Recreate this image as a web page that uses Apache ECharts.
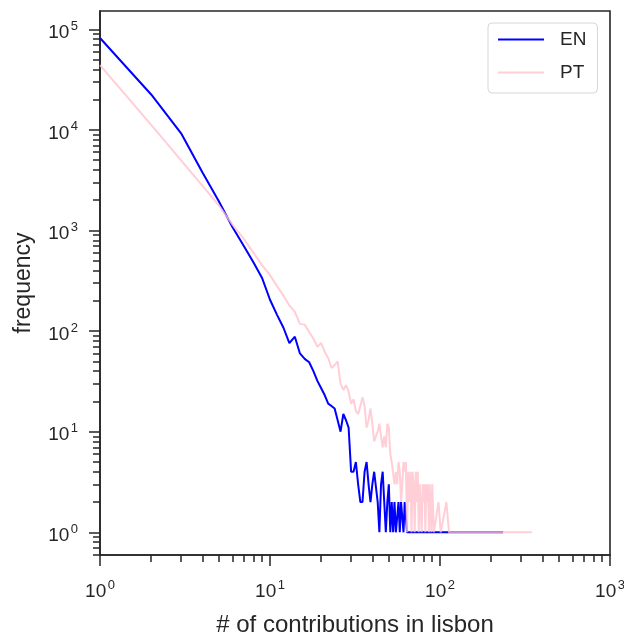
<!DOCTYPE html>
<html><head><meta charset="utf-8">
<script src="https://cdn.jsdelivr.net/npm/echarts@6/dist/echarts.min.js"></script>
<style>html,body{margin:0;padding:0;background:#fff}#c{width:624px;height:637px}</style>
</head><body><div id="c"></div>
<script>
// ---- data ----
const enX = [1,2,3,4,5,6,7,8,9,10,11,12,13,14,15,16,17,18,19,20,21,22,23,24,25,26,27,28,29,30,31,32,33,34,35,36,37,38,39,40,41,42,43,44,45,46,47,48,49,50,51,52,53,54,55,56,57,58,59,60,61,62,63,64,66,69,72,76,80,85,91,98,106,115,127,142,160,185,235];
const enY = [82000,22500,9250,3790,1950,1090,705,480,335,205,145,108,76,88,60,53,49,40,32,27,23,19,18,17,13,10,15,13,11,4,4,5,3,2,2,4,5,3,2,3,4,4,2,1,3,4,4,1,2,3,1,2,1,2,1,1,2,1,2,2,1,2,2,1,1,1,1,1,1,1,1,1,1,1,1,1,1,1,1];
const ptX = [1,2,3,4,5,6,7,8,9,10,11,12,13,14,15,16,17,18,19,20,21,22,23,24,25,26,27,28,29,30,31,32,33,34,35,36,37,38,39,40,41,42,43,44,45,46,47,48,49,50,51,52,53,54,55,56,57,58,59,60,61,62,63,64,65,66,67,68,69,70,71,72,73,74,75,76,77,78,79,80,81,82,83,84,85,86,87,88,89,90,92,98,101,109,113,120,130,145,165,190,220,260,300,347];
const ptY = [44000,11200,4980,2790,1780,1150,830,600,450,360,280,225,180,155,118,116,98,84,70,76,62,54,43,46,50,30,26,29,25,19,21,16,15,18,22,18,11,13,17,12,8,9,10,12,9,7,9,7,12,11,6,5,5,3,4,3,5,4,2,3,5,4,5,1,4,2,4,1,4,3,1,4,2,4,1,3,3,1,3,2,3,1,3,2,3,1,3,3,1,3,1,2,1,2,1,1,1,1,1,1,1,1,1,1];
const seriesNames = ['EN', 'PT'];
const xMajor = [1, 10, 100, 1000];
const yMajor = [1, 10, 100, 1000, 10000, 100000];
const xMinor = [2,3,4,5,6,7,8,9,20,30,40,50,60,70,80,90,200,300,400,500,600,700,800,900];
const yMinor = [0.6,0.7,0.8,0.9,2,3,4,5,6,7,8,9,20,30,40,50,60,70,80,90,200,300,400,500,600,700,800,900,2000,3000,4000,5000,6000,7000,8000,9000,20000,30000,40000,50000,60000,70000,80000,90000];
const xRange = [1, 1000];
const yRange = [0.595, 152000];

const FONT = 'Liberation Sans';
const TXT = '#262626';
const zip = (a, b) => a.map((v, i) => [v, b[i]]);
function fmt(v) {
  const n = Math.round(Math.log10(v));
  return '{b|10}{s|' + n + '}';
}
const rich = {
  b: { fontSize: 19, lineHeight: 19, padding: [7, 0, 0, 0], fontFamily: FONT, color: TXT },
  s: { fontSize: 13, lineHeight: 12, verticalAlign: 'top', fontFamily: FONT, color: TXT, padding: [0, 0, 0, 1.5] }
};
const tickLine = { color: TXT, width: 1.5 };

const chart = echarts.init(document.getElementById('c'), null, { renderer: 'canvas' });
chart.setOption({
  animation: false,
  backgroundColor: '#fff',
  grid: { left: 100, right: 14, top: 11, bottom: 82, containLabel: false, outerBoundsMode: 'none',
          show: true, borderColor: TXT, borderWidth: 1.6, backgroundColor: 'transparent' },
  legend: {
    data: seriesNames,
    orient: 'vertical',
    left: 488, top: 23,
    itemWidth: 46, itemHeight: 14, itemGap: 14,
    padding: [7, 11, 11, 9],
    backgroundColor: '#fff',
    borderColor: '#d6d6d6', borderWidth: 1, borderRadius: 4,
    itemStyle: { opacity: 0 },
    textStyle: { fontSize: 19, fontFamily: FONT, color: TXT, padding: [0, 0, 0, 11] }
  },
  xAxis: [{
    type: 'log', logBase: 10, min: xRange[0], max: xRange[1],
    name: '# of contributions in lisbon', nameLocation: 'middle', nameGap: 58,
    nameTextStyle: { fontSize: 24, fontFamily: FONT, color: TXT },
    axisLine: { show: true, lineStyle: { color: TXT, width: 1.6 } },
    axisTick: { show: true, length: 11, lineStyle: tickLine, customValues: xMajor },
    axisLabel: { margin: 24, customValues: xMajor, formatter: fmt, rich: rich },
    splitLine: { show: false }
  }, {
    type: 'log', logBase: 10, min: xRange[0], max: xRange[1], position: 'bottom',
    axisLine: { show: false },
    axisTick: { show: true, length: 7, lineStyle: tickLine, customValues: xMinor },
    axisLabel: { show: false }, splitLine: { show: false }
  }],
  yAxis: [{
    type: 'log', logBase: 10, min: yRange[0], max: yRange[1],
    name: 'frequency', nameLocation: 'middle', nameGap: 65, nameRotate: 90,
    nameTextStyle: { fontSize: 23, fontFamily: FONT, color: TXT },
    axisLine: { show: true, lineStyle: { color: TXT, width: 1.6 } },
    axisTick: { show: true, length: 11, lineStyle: tickLine, customValues: yMajor },
    axisLabel: { margin: 22, customValues: yMajor, formatter: fmt, rich: rich },
    splitLine: { show: false }
  }, {
    type: 'log', logBase: 10, min: yRange[0], max: yRange[1], position: 'left',
    axisLine: { show: false },
    axisTick: { show: true, length: 7, lineStyle: tickLine, customValues: yMinor },
    axisLabel: { show: false }, splitLine: { show: false }
  }],
  series: [{
    name: seriesNames[0], type: 'line', data: zip(enX, enY),
    xAxisIndex: 0, yAxisIndex: 0,
    symbol: 'none', lineStyle: { color: '#0000ff', width: 2 }, itemStyle: { color: '#0000ff' }, z: 2
  }, {
    name: seriesNames[1], type: 'line', data: zip(ptX, ptY),
    xAxisIndex: 0, yAxisIndex: 0,
    symbol: 'none', lineStyle: { color: '#ffc0cb', width: 2, opacity: 0.78 }, itemStyle: { color: '#ffc0cb' }, z: 3
  }]
});
</script>
</body></html>
